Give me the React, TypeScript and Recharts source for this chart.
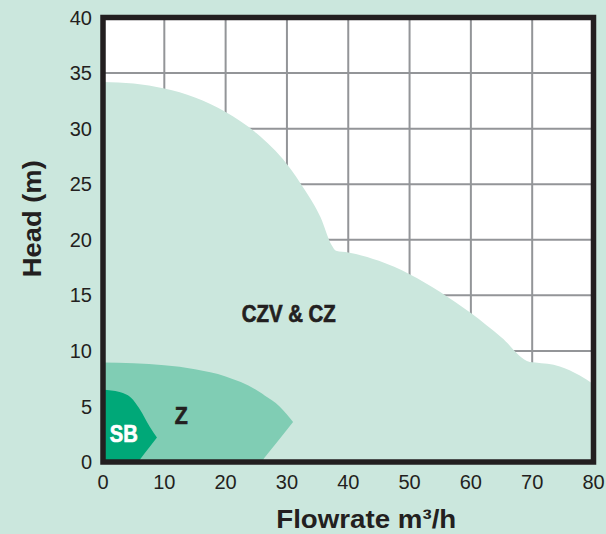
import React from 'react';
import {
  ComposedChart,
  Area,
  XAxis,
  YAxis,
  CartesianGrid,
  ReferenceArea,
  ReferenceDot,
} from 'recharts';

// Flowrate ticks (m³/h) and head ticks (m)
const flowTicks = [0, 10, 20, 30, 40, 50, 60, 70, 80];
const headTicks = [0, 5, 10, 15, 20, 25, 30, 35, 40];

// CZV & CZ envelope
const czFlow = [0, 5, 10, 15, 20, 25, 30, 33, 35.5, 37.3, 38, 40, 45, 50, 55, 60, 65, 69.6, 70.5, 74.5, 77.7, 80];
const czHead = [34.2, 34.05, 33.6, 32.8, 31.5, 29.6, 26.8, 24.4, 22.0, 19.5, 19.0, 18.85, 18.1, 16.9, 15.3, 13.4, 11.2, 9.0, 8.95, 8.6, 7.8, 7.0];

// Z envelope (upper and lower edge)
const zFlow = [0, 5, 10, 15, 20, 25.8, 26.3, 28.8, 31];
const zTop = [8.95, 8.88, 8.7, 8.35, 7.7, 6.2, 6.0, 5.0, 3.6];
const zBottom = [0, 0, 0, 0, 0, 0, 0.35, 2.08, 3.6];

// SB envelope (upper and lower edge)
const sbFlow = [0, 2.7, 4.9, 5.7, 6.0, 7.6, 8.8];
const sbTop = [6.5, 6.3, 5.6, 5.0, 4.75, 3.2, 2.2];
const sbBottom = [0, 0, 0, 0, 0.21, 1.35, 2.2];

const czData = czFlow.map((x, i) => ({ x, r: [0, czHead[i]] }));
const zData = zFlow.map((x, i) => ({ x, r: [zBottom[i], zTop[i]] }));
const sbData = sbFlow.map((x, i) => ({ x, r: [sbBottom[i], sbTop[i]] }));

const BG = '#cbe7dd';
const Z_COLOR = '#80cdb4';
const SB_COLOR = '#00a878';
const INK = '#231f20';
const FONT = '"Liberation Sans", Arial, sans-serif';

const XTitle = (props: any) => {
  const { x, y, width, height } = props.viewBox;
  return (
    <text
      x={x + width / 2 + 18}
      y={y + height - 6}
      textAnchor="middle"
      fontFamily={FONT}
      fontWeight="bold"
      fontSize={26}
      fill={INK}
      textLength={180}
      lengthAdjust="spacingAndGlyphs"
    >
      Flowrate m³/h
    </text>
  );
};

const YTitle = (props: any) => {
  const { x, y, height } = props.viewBox;
  const cx = x + 32;
  const cy = y + height / 2 - 21;
  return (
    <text
      x={cx}
      y={cy}
      transform={`rotate(-90, ${cx}, ${cy})`}
      textAnchor="middle"
      dominantBaseline="central"
      fontFamily={FONT}
      fontWeight="bold"
      fontSize={26}
      fill={INK}
      textLength={117}
      lengthAdjust="spacingAndGlyphs"
    >
      Head (m)
    </text>
  );
};

const regionLabel = (text: string, color: string, length: number) => (props: any) => {
  const { x, y, width, height } = props.viewBox;
  return (
    <text
      x={x + width / 2}
      y={y + height / 2}
      textAnchor="middle"
      dominantBaseline="central"
      fontFamily={FONT}
      fontWeight="bold"
      fontSize={23.5}
      fill={color}
      stroke={color}
      strokeWidth={0.7}
      textLength={length}
      lengthAdjust="spacingAndGlyphs"
    >
      {text}
    </text>
  );
};

export default function App() {
  return (
    <div style={{ position: 'absolute', left: 0, top: 0, width: 606, height: 534, background: BG }}>
      <ComposedChart
        width={606}
        height={534}
        margin={{ top: 17.5, right: 12.5, left: 0, bottom: 0 }}
      >
        <CartesianGrid fill="#ffffff" stroke="#939598" strokeWidth={2} strokeOpacity={1} />
        <XAxis
          type="number"
          dataKey="x"
          domain={[0, 80]}
          ticks={flowTicks}
          height={72}
          axisLine={false}
          tickLine={false}
          tickSize={0}
          tickMargin={13}
          tick={{ fill: INK, fontSize: 20, fontFamily: FONT }}
          allowDataOverflow
          label={{ content: XTitle }}
        />
        <YAxis
          type="number"
          domain={[0, 40]}
          ticks={headTicks}
          width={103}
          axisLine={false}
          tickLine={false}
          tickSize={0}
          tickMargin={11}
          tick={{ fill: INK, fontSize: 20, fontFamily: FONT }}
          allowDataOverflow
          label={{ content: YTitle }}
        />
        <Area
          data={czData}
          dataKey="r"
          type="monotone"
          fill={BG}
          fillOpacity={1}
          stroke="none"
          isAnimationActive={false}
        />
        <Area
          data={zData}
          dataKey="r"
          type="monotone"
          fill={Z_COLOR}
          fillOpacity={1}
          stroke="none"
          isAnimationActive={false}
        />
        <Area
          data={sbData}
          dataKey="r"
          type="monotone"
          fill={SB_COLOR}
          fillOpacity={1}
          stroke="none"
          isAnimationActive={false}
        />
        <ReferenceArea
          x1={0}
          x2={80}
          y1={0}
          y2={40}
          fill="none"
          fillOpacity={0}
          stroke={INK}
          strokeWidth={5.5}
          strokeOpacity={1}
        />
        <ReferenceDot x={30.3} y={13.3} r={0} fill="none" stroke="none" label={{ content: regionLabel('CZV & CZ', INK, 94) }} />
        <ReferenceDot x={12.75} y={4.1} r={0} fill="none" stroke="none" label={{ content: regionLabel('Z', INK, 13) }} />
        <ReferenceDot x={3.4} y={2.55} r={0} fill="none" stroke="none" label={{ content: regionLabel('SB', '#ffffff', 28) }} />
      </ComposedChart>
    </div>
  );
}
